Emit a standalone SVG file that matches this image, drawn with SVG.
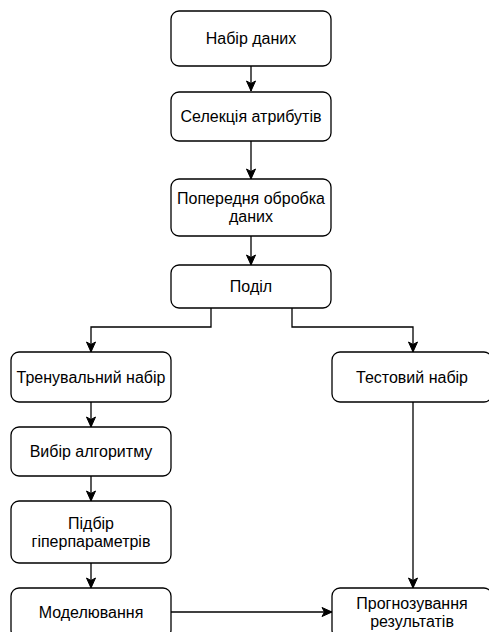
<svg xmlns="http://www.w3.org/2000/svg" width="489" height="632" viewBox="0 0 489 632">
<style>
.box{fill:#fff;stroke:#000;stroke-width:1.3}
.t{font-family:"Liberation Sans",Arial,sans-serif;font-size:16px;fill:#000;text-anchor:middle}
.c{fill:none;stroke:#000;stroke-width:1.3}
</style>
<defs>
<marker id="ar" markerUnits="userSpaceOnUse" markerWidth="12" markerHeight="12" viewBox="0 0 12 12" refX="11" refY="6" orient="auto">
<path d="M1,1.5 L11,6 L1,10.5 L3.5,6 z" fill="#000" stroke="#000" stroke-width="1"/>
</marker>
</defs>
<rect width="489" height="632" fill="#fff"/>
<g id="connectors">
<path class="c" d="M251,66 V91" marker-end="url(#ar)"/>
<path class="c" d="M251,141 V179" marker-end="url(#ar)"/>
<path class="c" d="M251,236 V265" marker-end="url(#ar)"/>
<path class="c" d="M211,308 V327 H91 V352" marker-end="url(#ar)"/>
<path class="c" d="M292,308 V327 H413 V352" marker-end="url(#ar)"/>
<path class="c" d="M91,402 V427" marker-end="url(#ar)"/>
<path class="c" d="M91,476 V501" marker-end="url(#ar)"/>
<path class="c" d="M91,563 V588" marker-end="url(#ar)"/>
<path class="c" d="M413,402 V588" marker-end="url(#ar)"/>
<path class="c" d="M171,612 H332" marker-end="url(#ar)"/>
</g>
<g id="n1"><rect class="box" x="171" y="11" width="160" height="55" rx="8"/><text class="t" x="251" y="44">Набір даних</text></g>
<g id="n2"><rect class="box" x="171" y="92" width="160" height="49" rx="8"/><text class="t" x="251" y="122">Селекція атрибутів</text></g>
<g id="n3"><rect class="box" x="171" y="179" width="160" height="57" rx="8"/><text class="t" x="251" y="204">Попередня обробка</text><text class="t" x="251" y="222">даних</text></g>
<g id="n4"><rect class="box" x="171" y="265" width="160" height="43" rx="8"/><text class="t" x="251" y="292">Поділ</text></g>
<g id="n5"><rect class="box" x="11" y="352" width="160" height="50" rx="8"/><text class="t" x="91" y="383">Тренувальний набір</text></g>
<g id="n6"><rect class="box" x="11" y="427" width="160" height="49" rx="8"/><text class="t" x="91" y="457">Вибір алгоритму</text></g>
<g id="n7"><rect class="box" x="11" y="501" width="160" height="62" rx="8"/><text class="t" x="91" y="529">Підбір</text><text class="t" x="91" y="547">гіперпараметрів</text></g>
<g id="n8"><rect class="box" x="11" y="588" width="160" height="50" rx="8"/><text class="t" x="91" y="618">Моделювання</text></g>
<g id="n9"><rect class="box" x="332" y="352" width="160" height="50" rx="8"/><text class="t" x="412" y="383">Тестовий набір</text></g>
<g id="n10"><rect class="box" x="332" y="588" width="160" height="50" rx="8"/><text class="t" x="412" y="609">Прогнозування</text><text class="t" x="412" y="627">результатів</text></g>
</svg>
